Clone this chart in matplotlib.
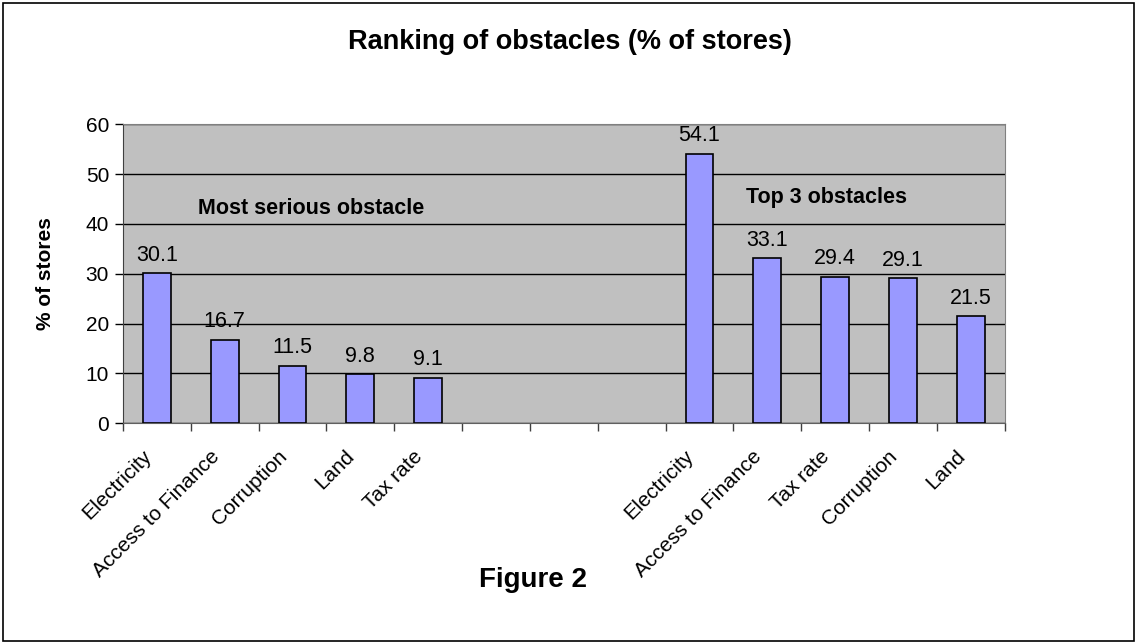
import numpy as np
import matplotlib.pyplot as plt
import matplotlib.transforms as mtransforms
from matplotlib.patches import Rectangle

plt.rcParams['font.family'] = ['Liberation Sans', 'DejaVu Sans']

# Data
categories = ["Electricity", "Access to Finance", "Corruption", "Land", "Tax rate",
              "", "", "",
              "Electricity", "Access to Finance", "Tax rate", "Corruption", "Land"]
values = [30.1, 16.7, 11.5, 9.8, 9.1,
          np.nan, np.nan, np.nan,
          54.1, 33.1, 29.4, 29.1, 21.5]
yticks = [0, 10, 20, 30, 40, 50, 60]

fig = plt.figure(figsize=(11.39, 6.44), dpi=100)
ax = fig.add_axes([0.108, 0.343, 0.774, 0.464])

x = np.arange(len(categories))
vals = np.array(values, dtype=float)
mask = ~np.isnan(vals)

ax.set_facecolor('#C0C0C0')
ax.set_axisbelow(True)
ax.yaxis.grid(True, color='black', linewidth=1.0)
ax.bar(x[mask], vals[mask], width=0.41, color='#9999FF', edgecolor='black', linewidth=1.2, zorder=3)

for xi, v in zip(x[mask], vals[mask]):
    ax.annotate(f"{v:.1f}", (xi, v), xytext=(0, 9), textcoords='offset points',
                ha='center', va='baseline', fontsize=15.5)

ax.set_xlim(-0.5, len(categories) - 0.5)
ax.set_ylim(0, 60)
ax.set_yticks(yticks)
ax.tick_params(axis='y', labelsize=15, length=6, width=1, direction='out', pad=4)

ax.set_xticks(x)
ax.set_xticklabels(categories, rotation=45, ha='right', va='top', rotation_mode='anchor', fontsize=15)
ax.tick_params(axis='x', which='major', length=0, pad=17)
offset = mtransforms.ScaledTranslation(-11 / 72, 0, fig.dpi_scale_trans)
for lbl in ax.get_xticklabels():
    lbl.set_transform(lbl.get_transform() + offset)
ax.set_xticks(np.arange(-0.5, len(categories)), minor=True)
ax.tick_params(axis='x', which='minor', length=6, width=1, direction='out', color='#404040')

for s in ['top', 'right']:
    ax.spines[s].set_color('#808080')
ax.spines['bottom'].set_color('#606060')
ax.spines['left'].set_color('#404040')

ax.set_ylabel("% of stores", fontsize=15, fontweight='bold')
ax.yaxis.set_label_coords(-0.077, 0.5)

ax.text(0.6, 43.1, "Most serious obstacle", fontsize=15.5, fontweight='bold', va='center', ha='left')
ax.text(8.69, 45.4, "Top 3 obstacles", fontsize=15.5, fontweight='bold', va='center', ha='left')

fig.text(0.5, 0.935, "Ranking of obstacles (% of stores)", fontsize=19.5, fontweight='bold', ha='center', va='center')
fig.text(0.468, 0.099, "Figure 2", fontsize=20, fontweight='bold', ha='center', va='center')

fig.patches.append(Rectangle((0.003, 0.005), 0.993, 0.99, transform=fig.transFigure,
                             fill=False, edgecolor='black', linewidth=1.2))

fig.savefig("out.png", dpi=100)
